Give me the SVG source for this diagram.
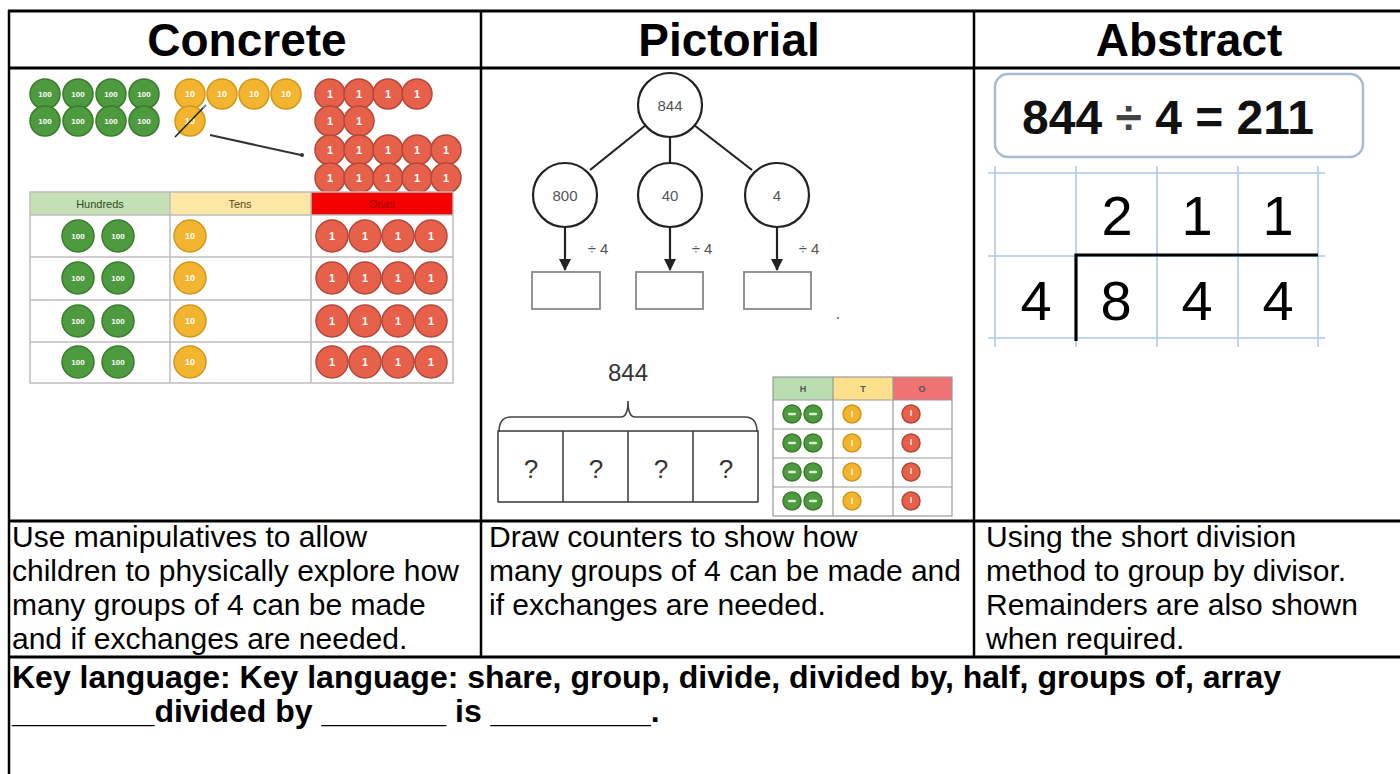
<svg xmlns="http://www.w3.org/2000/svg" width="1400" height="774" viewBox="0 0 1400 774">
  <defs>
    <style>
      .rule{stroke:#000;stroke-width:3;fill:none}
      .col{stroke:#000;stroke-width:2.5;fill:none}
      .head{font-family:"Liberation Sans",Arial,sans-serif;font-weight:bold;font-size:46px;text-anchor:middle;fill:#000}
      .desc{font-family:"Liberation Sans",Arial,sans-serif;font-size:30px;fill:#000}
      .key{font-family:"Liberation Sans",Arial,sans-serif;font-size:32px;font-weight:bold;fill:#000}
      .h100{fill:#4e9a3f;stroke:#3a7b2d;stroke-width:1.5}
      .t10{fill:#f3b52f;stroke:#d1961a;stroke-width:1.5}
      .o1{fill:#e6604a;stroke:#b4473a;stroke-width:1.5}
      .cl{font-family:"Liberation Sans",Arial,sans-serif;font-weight:bold;fill:#fff;text-anchor:middle}
      .grid{stroke:#bdbdbd;stroke-width:1.5;fill:none}
      .th{font-family:"Liberation Sans",Arial,sans-serif;font-size:11px;text-anchor:middle}
      .tree{stroke:#222;stroke-width:2.2;fill:#fff}
      .tl{font-family:"Liberation Sans",Arial,sans-serif;font-size:15px;fill:#555;text-anchor:middle}
      .box{stroke:#888;stroke-width:1.8;fill:#fff}
      .bar{stroke:#444;stroke-width:1.6;fill:none}
      .q{font-family:"Liberation Sans",Arial,sans-serif;font-size:26px;fill:#333;text-anchor:middle}
      .hto{stroke:#9a9a9a;stroke-width:1.2;fill:none}
      .sq{stroke:#a9c9ef;stroke-width:1.6;fill:none}
      .dig{font-family:"Liberation Sans",Arial,sans-serif;font-size:56px;fill:#000;text-anchor:middle}
    </style>
    <marker id="down" markerUnits="userSpaceOnUse" markerWidth="12" markerHeight="12" refX="6" refY="11" orient="0">
      <path d="M0,0 L12,0 L6,12 z" fill="#222"/>
    </marker>
    <!-- place-value counters -->
    <g id="c100"><circle r="15" class="h100"/><text class="cl" y="3" font-size="8" fill="#e6f3dc">100</text></g>
    <g id="c10"><circle r="15" class="t10"/><text class="cl" y="3" font-size="9">10</text></g>
    <g id="c1"><circle r="15" class="o1"/><text class="cl" y="4" font-size="11">1</text></g>
    <g id="b100"><circle r="16" class="h100"/><text class="cl" y="3" font-size="8" fill="#e6f3dc">100</text></g>
    <g id="b10"><circle r="16" class="t10"/><text class="cl" y="3" font-size="9">10</text></g>
    <g id="b1"><circle r="16" class="o1"/><text class="cl" y="4" font-size="11">1</text></g>
    <g id="s100"><circle r="9" class="h100"/><rect x="-4" y="-1.2" width="8" height="2.4" rx="1" fill="#d8efd0"/></g>
    <g id="s10"><circle r="9" class="t10"/><rect x="-1" y="-3" width="2" height="6" fill="#fde9a6"/></g>
    <g id="s1"><circle r="9" class="o1"/><rect x="-1" y="-4" width="2" height="6" fill="#f8c0b4"/></g>
  </defs>

  <rect width="1400" height="774" fill="#fff"/>

  <!-- table frame -->
  <g id="frame">
    <line class="rule" x1="8" y1="11" x2="1400" y2="11"/>
    <line class="rule" x1="8" y1="68" x2="1400" y2="68"/>
    <line class="rule" x1="8" y1="521" x2="1400" y2="521"/>
    <line class="rule" x1="8" y1="657" x2="1400" y2="657"/>
    <line class="col" x1="9" y1="10" x2="9" y2="774"/>
    <line class="col" x1="481" y1="11" x2="481" y2="657"/>
    <line class="col" x1="974" y1="11" x2="974" y2="657"/>
  </g>

  <!-- column headings -->
  <g id="headings">
    <text class="head" x="247" y="56">Concrete</text>
    <text class="head" x="729" y="56">Pictorial</text>
    <text class="head" x="1189" y="56">Abstract</text>
  </g>

  <!-- concrete: counters and place value chart -->
  <g id="concrete">
    <g id="loose-counters">
      <use href="#c100" x="45" y="94"/><use href="#c100" x="78" y="94"/><use href="#c100" x="111" y="94"/><use href="#c100" x="144" y="94"/>
      <use href="#c100" x="45" y="121"/><use href="#c100" x="78" y="121"/><use href="#c100" x="111" y="121"/><use href="#c100" x="144" y="121"/>
      <use href="#c10" x="190" y="94"/><use href="#c10" x="222" y="94"/><use href="#c10" x="254" y="94"/><use href="#c10" x="286" y="94"/>
      <use href="#c10" x="190" y="121"/>
      <line x1="175" y1="137" x2="204" y2="107" stroke="#222" stroke-width="1.6"/>
      <line x1="203" y1="108" x2="206" y2="105" stroke="#5b8fd8" stroke-width="2"/>
      <line x1="210" y1="135" x2="301" y2="155" stroke="#333" stroke-width="2"/>
      <circle cx="302" cy="155" r="2" fill="#333"/>
      <use href="#c1" x="330" y="94"/><use href="#c1" x="359" y="94"/><use href="#c1" x="388" y="94"/><use href="#c1" x="417" y="94"/>
      <use href="#c1" x="330" y="121"/><use href="#c1" x="359" y="121"/>
      <use href="#c1" x="330" y="150"/><use href="#c1" x="359" y="150"/><use href="#c1" x="388" y="150"/><use href="#c1" x="417" y="150"/><use href="#c1" x="446" y="150"/>
      <use href="#c1" x="330" y="178"/><use href="#c1" x="359" y="178"/><use href="#c1" x="388" y="178"/><use href="#c1" x="417" y="178"/><use href="#c1" x="446" y="178"/>
    </g>
    <g id="place-value-chart">
      <rect x="30" y="192" width="140" height="23" fill="#c5e0b5"/>
      <rect x="170" y="192" width="141" height="23" fill="#fde7a4"/>
      <rect x="311" y="192" width="142" height="23" fill="#f40000"/>
      <text class="th" x="100" y="208" fill="#2f4a22">Hundreds</text>
      <text class="th" x="240" y="208" fill="#5a4a10">Tens</text>
      <text class="th" x="382" y="208" fill="#a00000">Ones</text>
      <rect class="grid" x="30" y="192" width="423" height="191"/>
      <line class="grid" x1="170" y1="192" x2="170" y2="383"/>
      <line class="grid" x1="311" y1="192" x2="311" y2="383"/>
      <line class="grid" x1="30" y1="215" x2="453" y2="215"/>
      <line class="grid" x1="30" y1="257" x2="453" y2="257"/>
      <line class="grid" x1="30" y1="300" x2="453" y2="300"/>
      <line class="grid" x1="30" y1="342" x2="453" y2="342"/>
      <use href="#b100" x="78" y="236"/><use href="#b100" x="118" y="236"/><use href="#b10" x="190" y="236"/>
      <use href="#b1" x="332" y="236"/><use href="#b1" x="365" y="236"/><use href="#b1" x="398" y="236"/><use href="#b1" x="431" y="236"/>
      <use href="#b100" x="78" y="278"/><use href="#b100" x="118" y="278"/><use href="#b10" x="190" y="278"/>
      <use href="#b1" x="332" y="278"/><use href="#b1" x="365" y="278"/><use href="#b1" x="398" y="278"/><use href="#b1" x="431" y="278"/>
      <use href="#b100" x="78" y="321"/><use href="#b100" x="118" y="321"/><use href="#b10" x="190" y="321"/>
      <use href="#b1" x="332" y="321"/><use href="#b1" x="365" y="321"/><use href="#b1" x="398" y="321"/><use href="#b1" x="431" y="321"/>
      <use href="#b100" x="78" y="362"/><use href="#b100" x="118" y="362"/><use href="#b10" x="190" y="362"/>
      <use href="#b1" x="332" y="362"/><use href="#b1" x="365" y="362"/><use href="#b1" x="398" y="362"/><use href="#b1" x="431" y="362"/>
    </g>
  </g>

  <!-- pictorial: part-whole tree, bar model, counters chart -->
  <g id="pictorial">
    <g id="tree-links">
      <line x1="646" y1="125" x2="590" y2="170" stroke="#222" stroke-width="2.2"/>
      <line x1="670" y1="137" x2="670" y2="163" stroke="#222" stroke-width="2.2"/>
      <line x1="694" y1="125" x2="752" y2="170" stroke="#222" stroke-width="2.2"/>
      <line x1="565" y1="227" x2="565" y2="270" stroke="#222" stroke-width="2.2" marker-end="url(#down)"/>
      <line x1="670" y1="227" x2="670" y2="270" stroke="#222" stroke-width="2.2" marker-end="url(#down)"/>
      <line x1="777" y1="227" x2="777" y2="270" stroke="#222" stroke-width="2.2" marker-end="url(#down)"/>
    </g>
    <g id="node-844"><circle class="tree" cx="670" cy="105" r="32"/><text class="tl" x="670" y="111">844</text></g>
    <g id="node-800"><circle class="tree" cx="565" cy="195" r="32"/><text class="tl" x="565" y="201">800</text></g>
    <g id="node-40"><circle class="tree" cx="670" cy="195" r="32"/><text class="tl" x="670" y="201">40</text></g>
    <g id="node-4"><circle class="tree" cx="777" cy="195" r="32"/><text class="tl" x="777" y="201">4</text></g>
    <g id="divide-labels">
      <text class="tl" x="598" y="254" font-size="14">÷ 4</text>
      <text class="tl" x="702" y="254" font-size="14">÷ 4</text>
      <text class="tl" x="809" y="254" font-size="14">÷ 4</text>
    </g>
    <g id="answer-boxes">
      <rect class="box" x="532" y="272" width="68" height="37"/>
      <rect class="box" x="636" y="272" width="67" height="37"/>
      <rect class="box" x="744" y="272" width="67" height="37"/>
      <circle cx="838" cy="318" r="1" fill="#555"/>
    </g>
    <g id="bar-model">
      <text x="628" y="381" font-family="Liberation Sans, Arial, sans-serif" font-size="24" fill="#333" text-anchor="middle">844</text>
      <path class="bar" d="M499,432 Q499,417 511,417 L621,417 Q628,417 628,401 Q628,417 635,417 L745,417 Q757,417 757,432"/>
      <rect class="bar" x="498" y="431" width="260" height="71"/>
      <line class="bar" x1="563" y1="431" x2="563" y2="502"/>
      <line class="bar" x1="628" y1="431" x2="628" y2="502"/>
      <line class="bar" x1="693" y1="431" x2="693" y2="502"/>
      <text class="q" x="531" y="478">?</text>
      <text class="q" x="596" y="478">?</text>
      <text class="q" x="661" y="478">?</text>
      <text class="q" x="726" y="478">?</text>
    </g>
    <g id="hto-chart">
      <rect x="773" y="377" width="60" height="23" fill="#b9dcb0"/>
      <rect x="833" y="377" width="60" height="23" fill="#fde08c"/>
      <rect x="893" y="377" width="59" height="23" fill="#ef7373"/>
      <text x="803" y="392" font-family="Liberation Sans, Arial, sans-serif" font-size="9" font-weight="bold" fill="#555" text-anchor="middle">H</text>
      <text x="863" y="392" font-family="Liberation Sans, Arial, sans-serif" font-size="9" font-weight="bold" fill="#555" text-anchor="middle">T</text>
      <text x="922" y="392" font-family="Liberation Sans, Arial, sans-serif" font-size="9" font-weight="bold" fill="#555" text-anchor="middle">O</text>
      <rect class="hto" x="773" y="377" width="179" height="139"/>
      <line class="hto" x1="833" y1="377" x2="833" y2="516"/>
      <line class="hto" x1="893" y1="377" x2="893" y2="516"/>
      <line class="hto" x1="773" y1="400" x2="952" y2="400"/>
      <line class="hto" x1="773" y1="429" x2="952" y2="429"/>
      <line class="hto" x1="773" y1="458" x2="952" y2="458"/>
      <line class="hto" x1="773" y1="487" x2="952" y2="487"/>
      <use href="#s100" x="792" y="414"/><use href="#s100" x="813" y="414"/><use href="#s10" x="852" y="414"/><use href="#s1" x="911" y="414"/>
      <use href="#s100" x="792" y="443"/><use href="#s100" x="813" y="443"/><use href="#s10" x="852" y="443"/><use href="#s1" x="911" y="443"/>
      <use href="#s100" x="792" y="472"/><use href="#s100" x="813" y="472"/><use href="#s10" x="852" y="472"/><use href="#s1" x="911" y="472"/>
      <use href="#s100" x="792" y="501"/><use href="#s100" x="813" y="501"/><use href="#s10" x="852" y="501"/><use href="#s1" x="911" y="501"/>
    </g>
  </g>

  <!-- abstract: equation and short division -->
  <g id="abstract">
    <g id="equation">
      <rect x="995" y="74" width="368" height="83" rx="13" fill="#fff" stroke="#a9bbd4" stroke-width="2.5"/>
      <text x="1168" y="134" font-family="Liberation Sans, Arial, sans-serif" font-size="48" font-weight="bold" fill="#111" text-anchor="middle">844 <tspan fill="#444">÷</tspan> 4 = 211</text>
    </g>
    <g id="short-division">
      <line class="sq" x1="988" y1="173" x2="1325" y2="173"/>
      <line class="sq" x1="988" y1="256" x2="1325" y2="256"/>
      <line class="sq" x1="988" y1="338" x2="1325" y2="338"/>
      <line class="sq" x1="995" y1="166" x2="995" y2="347"/>
      <line class="sq" x1="1076" y1="166" x2="1076" y2="347"/>
      <line class="sq" x1="1157" y1="166" x2="1157" y2="347"/>
      <line class="sq" x1="1238" y1="166" x2="1238" y2="347"/>
      <line class="sq" x1="1318" y1="166" x2="1318" y2="347"/>
      <text class="dig" x="1117" y="235">2</text>
      <text class="dig" x="1197" y="235">1</text>
      <text class="dig" x="1278" y="235">1</text>
      <text class="dig" x="1036" y="320">4</text>
      <text class="dig" x="1116" y="320">8</text>
      <text class="dig" x="1197" y="320">4</text>
      <text class="dig" x="1278" y="320">4</text>
      <path d="M1076,341 L1076,255 L1318,255" stroke="#000" stroke-width="3.2" fill="none"/>
    </g>
  </g>

  <!-- descriptions -->
  <g id="desc-concrete" class="desc">
    <text x="12" y="547">Use manipulatives to allow</text>
    <text x="12" y="581">children to physically explore how</text>
    <text x="12" y="615">many groups of 4 can be made</text>
    <text x="12" y="649">and if exchanges are needed.</text>
  </g>
  <g id="desc-pictorial" class="desc">
    <text x="489" y="547">Draw counters to show how</text>
    <text x="489" y="581">many groups of 4 can be made and</text>
    <text x="489" y="615">if exchanges are needed.</text>
  </g>
  <g id="desc-abstract" class="desc">
    <text x="986" y="547">Using the short division</text>
    <text x="986" y="581">method to group by divisor.</text>
    <text x="986" y="615">Remainders are also shown</text>
    <text x="986" y="649">when required.</text>
  </g>

  <!-- key language row -->
  <g id="key-language" class="key">
    <text x="12" y="688">Key language: Key language: share, group, divide, divided by, half, groups of, array</text>
    <text x="12" y="722">________divided by _______ is _________.</text>
  </g>
</svg>
